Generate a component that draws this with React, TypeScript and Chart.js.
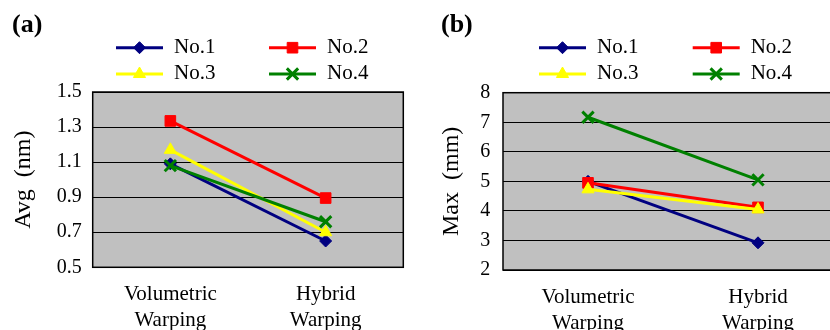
import React, { useEffect, useRef } from 'react';
import { Chart, registerables, PointElement } from 'chart.js';

Chart.register(...registerables);

// ---- data ----
const categories = [['Volumetric', 'Warping'], ['Hybrid', 'Warping']];
const seriesNames = ['No.1', 'No.2', 'No.3', 'No.4'];

const avgNo1 = [1.09, 0.65];
const avgNo2 = [1.335, 0.895];
const avgNo3 = [1.17, 0.70];
const avgNo4 = [1.08, 0.76];

const maxNo1 = [5.0, 2.92];
const maxNo2 = [4.95, 4.12];
const maxNo3 = [4.73, 4.05];
const maxNo4 = [7.17, 5.05];

const avgTicks = [0.5, 0.7, 0.9, 1.1, 1.3, 1.5];
const maxTicks = [2, 3, 4, 5, 6, 7, 8];

// ---- styles ----
const FONT = '"Liberation Serif", "Times New Roman", serif';
const colors = ['#000080', '#FF0000', '#FFFF00', '#008000'];
const pointStyles = ['rectRot', 'rect', 'triangle', 'crossRot'];
const pointRadii = [6, 7.5, 7, 8];
const pointBorders = [1, 1, 1, 3];
const PLOT_BG = '#C0C0C0';
const LEGEND_ROWS = [47.7, 74];
const LEGEND_LINE = 47;

type PanelProps = {
  values: number[][];
  ticks: number[];
  decimals: number;
  yTitle: string;
  left: number;
  canvasWidth: number;
  yAxisWidth: number;
  rightPad: number;
  topPad: number;
  xAxisHeight: number;
  titlePad: number;
  tickPad: number;
  legendX: number[];
};

function makeFramePlugin(legendX: number[]) {
  return {
    id: 'frameAndLegend',
    beforeDraw(chart: any) {
      const { ctx, chartArea: a } = chart;
      ctx.save();
      ctx.fillStyle = PLOT_BG;
      ctx.fillRect(a.left, a.top, a.right - a.left, a.bottom - a.top);
      ctx.restore();
    },
    beforeDatasetsDraw(chart: any) {
      const { ctx, chartArea: a } = chart;
      ctx.save();
      ctx.strokeStyle = '#000';
      ctx.lineWidth = 1.5;
      ctx.strokeRect(a.left, a.top, a.right - a.left, a.bottom - a.top);
      ctx.restore();
    },
    afterDraw(chart: any) {
      const ctx = chart.ctx;
      chart.data.datasets.forEach((ds: any, i: number) => {
        const col = i % 2;
        const row = Math.floor(i / 2);
        const x0 = legendX[col];
        const y = LEGEND_ROWS[row];
        ctx.save();
        ctx.strokeStyle = ds.borderColor;
        ctx.lineWidth = 3;
        ctx.beginPath();
        ctx.moveTo(x0, y);
        ctx.lineTo(x0 + LEGEND_LINE, y);
        ctx.stroke();
        const pt: any = new (PointElement as any)({
          x: x0 + LEGEND_LINE / 2,
          y,
          options: {
            pointStyle: ds.pointStyle,
            radius: ds.pointRadius,
            rotation: 0,
            borderWidth: ds.pointBorderWidth,
            backgroundColor: ds.pointBackgroundColor,
            borderColor: ds.pointBorderColor,
          },
        });
        pt.draw(ctx);
        ctx.fillStyle = '#000';
        ctx.font = `21px ${FONT}`;
        ctx.textAlign = 'left';
        ctx.textBaseline = 'alphabetic';
        ctx.fillText(ds.label, x0 + LEGEND_LINE + 11, y + 5);
        ctx.restore();
      });
    },
  };
}

function Panel(props: PanelProps) {
  const ref = useRef<HTMLCanvasElement>(null);
  useEffect(() => {
    if (!ref.current) return;
    const datasets = props.values.map((vals, i) => ({
      label: seriesNames[i],
      data: vals,
      borderColor: colors[i],
      backgroundColor: colors[i],
      borderWidth: 3,
      pointStyle: pointStyles[i],
      pointRadius: pointRadii[i],
      pointHoverRadius: pointRadii[i],
      pointBorderWidth: pointBorders[i],
      pointBackgroundColor: colors[i],
      pointBorderColor: colors[i],
      tension: 0,
      order: props.values.length - 1 - i,
    }));
    const chart = new Chart(ref.current, {
      type: 'line',
      data: { labels: categories as any, datasets: datasets as any },
      plugins: [makeFramePlugin(props.legendX) as any],
      options: {
        responsive: false,
        animation: false,
        devicePixelRatio: 1,
        layout: {
          padding: { left: 0, right: props.rightPad, top: props.topPad, bottom: 0 },
        },
        plugins: {
          legend: { display: false },
          tooltip: { enabled: false },
        },
        scales: {
          x: {
            offset: true,
            grid: { display: false, drawTicks: false },
            border: { display: false },
            ticks: {
              color: '#000',
              font: { family: FONT, size: 21, lineHeight: 1.24 },
              padding: 14,
              maxRotation: 0,
              autoSkip: false,
            },
            afterFit: (scale: any) => {
              scale.height = props.xAxisHeight;
            },
          },
          y: {
            min: props.ticks[0],
            max: props.ticks[props.ticks.length - 1],
            grid: { color: '#000', lineWidth: 1, drawTicks: false },
            border: { display: false },
            afterBuildTicks: (scale: any) => {
              scale.ticks = props.ticks.map((v) => ({ value: v }));
            },
            ticks: {
              color: '#000',
              font: { family: FONT, size: 20 },
              padding: props.tickPad,
              callback: (v: any) => Number(v).toFixed(props.decimals),
            },
            title: {
              display: true,
              text: props.yTitle,
              color: '#000',
              font: { family: FONT, size: 24, lineHeight: 1.2 },
              padding: { top: props.titlePad, bottom: 0 },
            },
            afterFit: (scale: any) => {
              scale.width = props.yAxisWidth;
            },
          },
        },
      } as any,
    });
    return () => chart.destroy();
  }, []);
  return (
    <canvas
      ref={ref}
      width={props.canvasWidth}
      height={330}
      style={{
        position: 'absolute',
        left: props.left,
        top: 0,
        width: props.canvasWidth,
        height: 330,
        display: 'block',
      }}
    />
  );
}

const labelStyle: React.CSSProperties = {
  position: 'absolute',
  top: 11,
  fontFamily: FONT,
  fontWeight: 'bold',
  fontSize: 26,
  lineHeight: '26px',
  color: '#000',
  whiteSpace: 'nowrap',
};

export default function App() {
  return (
    <div
      style={{
        position: 'fixed',
        left: 0,
        top: 0,
        width: 830,
        height: 330,
        overflow: 'hidden',
        background: '#fff',
      }}
    >
      <Panel
        values={[avgNo1, avgNo2, avgNo3, avgNo4]}
        ticks={avgTicks}
        decimals={1}
        yTitle="Avg  (nm)"
        left={0}
        canvasWidth={415}
        yAxisWidth={92.7}
        rightPad={11.7}
        topPad={92}
        xAxisHeight={62.7}
        titlePad={9}
        tickPad={11}
        legendX={[116, 269]}
      />
      <Panel
        values={[maxNo1, maxNo2, maxNo3, maxNo4]}
        ticks={maxTicks}
        decimals={0}
        yTitle="Max  (mm)"
        left={415}
        canvasWidth={445}
        yAxisWidth={88}
        rightPad={17}
        topPad={92.7}
        xAxisHeight={60}
        titlePad={22}
        tickPad={12.7}
        legendX={[124, 277.7]}
      />
      <div style={{ ...labelStyle, left: 12 }}>(a)</div>
      <div style={{ ...labelStyle, left: 441 }}>(b)</div>
    </div>
  );
}
